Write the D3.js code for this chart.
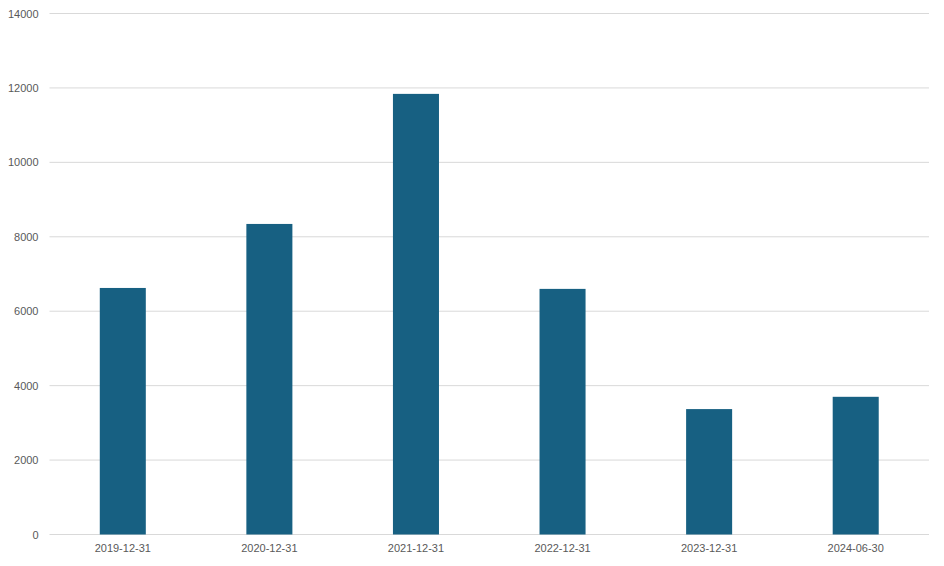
<!DOCTYPE html>
<html lang="en">
  <head>
    <meta charset="utf-8">
    <title>Bar chart</title>
    <script src="https://cdn.jsdelivr.net/npm/d3@7"></script>
    <style>
      body { margin: 0; background: #fff; }
      text { font-family: 'Liberation Sans', Arial, sans-serif; }
    </style>
  </head>
  <body>
    <div id="chart"></div>
    <script>
      const dates = ['2019-12-31', '2020-12-31', '2021-12-31', '2022-12-31', '2023-12-31', '2024-06-30'];
      const values = [6625, 8345, 11840, 6600, 3370, 3700];
      const yTicks = [0, 2000, 4000, 6000, 8000, 10000, 12000, 14000];

      let margin = {top: 13.5, right: 15, bottom: 31.5, left: 49.5};
      let width = 944 - margin.left - margin.right;
      let height = 566 - margin.top - margin.bottom;

      let canvas = d3.select('#chart').append('svg')
        .attr('width', 944)
        .attr('height', 566)
        .append('g')
        .attr('transform', 'translate(' + margin.left + ',' + margin.top + ')');

      let scale_x = d3.scaleBand()
        .domain(dates)
        .range([0, width])
        .paddingInner(0.686)
        .paddingOuter(0.343);

      let scale_y = d3.scaleLinear()
        .domain([0, 14000])
        .range([height, 0]);

      // gridlines
      canvas.append('g')
        .selectAll('line')
        .data(yTicks)
        .enter()
        .append('line')
        .attr('x1', 0)
        .attr('x2', width)
        .attr('y1', d => scale_y(d))
        .attr('y2', d => scale_y(d))
        .attr('stroke', '#d9d9d9')
        .attr('stroke-width', 1);

      canvas.selectAll('rect')
        .data(values)
        .enter()
        .append('rect')
        .attr('x', (d, i) => scale_x(dates[i]))
        .attr('y', d => scale_y(d))
        .attr('width', scale_x.bandwidth())
        .attr('height', d => height - scale_y(d))
        .style('fill', '#176082');

      let y_axis = d3.axisLeft(scale_y).tickValues(yTicks).tickFormat(d3.format('d'))
        .tickSize(0).tickPadding(11);
      let gy = canvas.append('g').call(y_axis);
      gy.select('.domain').remove();
      gy.selectAll('text').attr('font-size', '11px').attr('fill', '#595959')
        .attr('font-family', "'Liberation Sans', Arial, sans-serif");

      let x_axis = d3.axisBottom(scale_x).tickSize(0).tickPadding(10);
      let gx = canvas.append('g')
        .attr('transform', 'translate(0,' + height + ')')
        .call(x_axis);
      gx.select('.domain').remove();
      gx.selectAll('text').attr('font-size', '11px').attr('fill', '#595959')
        .attr('font-family', "'Liberation Sans', Arial, sans-serif");
    </script>
  </body>
</html>
